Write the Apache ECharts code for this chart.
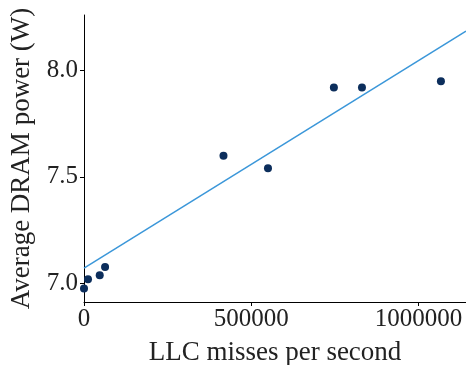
<!DOCTYPE html>
<html>
<head>
<meta charset="utf-8">
<script src="https://cdn.jsdelivr.net/npm/echarts@6/dist/echarts.min.js"></script>
<style>
  html, body { margin: 0; padding: 0; background: #fff; }
  #chart { width: 466px; height: 365px; }
</style>
</head>
<body>
<div id="chart"></div>
<script>
// LLC miss rate (misses/s) per run and its average DRAM power (W)
const llcMisses = [0, 12000, 47000, 63000, 417000, 550000, 747000, 831000, 1067000];
const dramPower = [6.976, 7.019, 7.038, 7.077, 7.600, 7.541, 7.920, 7.920, 7.950];

// Fitted trend line, given by its two end points
const fitX = [0, 1142000];
const fitY = [7.071, 8.185];

// Axis ranges and tick positions
const xRange = [0, 1142000];
const yRange = [6.912, 8.261];
const xTicks = [0, 500000, 1000000];
const yTicks = [7.0, 7.5, 8.0];

const font = '"Liberation Serif", "DejaVu Serif", serif';
const ink = '#222';

const chart = echarts.init(document.getElementById('chart'), null, { renderer: 'canvas' });
chart.setOption({
  animation: false,
  backgroundColor: '#fff',
  grid: { left: 84, top: 15, right: 0, bottom: 63, containLabel: false, outerBoundsMode: 'none' },
  xAxis: {
    type: 'value',
    min: xRange[0], max: xRange[1],
    name: 'LLC misses per second',
    nameLocation: 'middle',
    nameGap: 37,
    nameTextStyle: { fontFamily: font, fontSize: 27, color: ink },
    axisLine: { show: true, onZero: false, lineStyle: { color: '#000', width: 1 } },
    axisTick: { show: true, length: 4, customValues: xTicks, lineStyle: { color: '#000' } },
    axisLabel: {
      customValues: xTicks, margin: 5,
      fontFamily: font, fontSize: 25, color: ink,
      formatter: v => String(v)
    },
    splitLine: { show: false }
  },
  yAxis: {
    type: 'value',
    min: yRange[0], max: yRange[1],
    name: 'Average DRAM power (W)',
    nameLocation: 'middle',
    nameRotate: 90,
    nameGap: 48,
    nameTextStyle: { fontFamily: font, fontSize: 27, color: ink },
    axisLine: { show: true, onZero: false, lineStyle: { color: '#000', width: 1 } },
    axisTick: { show: true, length: 4, customValues: yTicks, lineStyle: { color: '#000' } },
    axisLabel: {
      customValues: yTicks, margin: 6,
      fontFamily: font, fontSize: 25, color: ink,
      formatter: v => v.toFixed(1)
    },
    splitLine: { show: false }
  },
  series: [
    {
      type: 'line',
      data: fitX.map((x, i) => [x, fitY[i]]),
      symbol: 'none',
      lineStyle: { color: '#3b97d9', width: 1.5 },
      clip: true,
      z: 2
    },
    {
      type: 'scatter',
      data: llcMisses.map((x, i) => [x, dramPower[i]]),
      symbolSize: 8,
      itemStyle: { color: '#0c2e5c', opacity: 1 },
      clip: false,
      z: 3
    }
  ]
});
</script>
</body>
</html>
